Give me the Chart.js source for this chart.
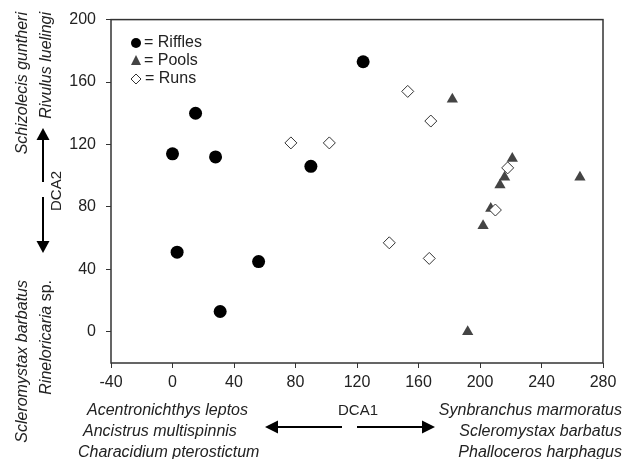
<!DOCTYPE html>
<html>
<head>
<meta charset="utf-8">
<script src="https://cdn.jsdelivr.net/npm/chart.js@4"></script>
<style>
  body { margin: 0; background: #fff; }
  #wrap { width: 633px; height: 459px; }
</style>
</head>
<body>
<div id="wrap"><canvas id="chart" width="633" height="459"></canvas></div>
<script>
// DCA scores (DCA1, DCA2)
const rifflesX = [124, 15, 0, 28, 90, 3, 56, 31];
const rifflesY = [173, 140, 114, 112, 106, 51, 45, 13];
const poolsX = [182, 265, 221, 216, 213, 207, 202, 192];
const poolsY = [149, 99, 111, 99, 94, 79, 68, 0];
const runsX = [153, 168, 77, 102, 218, 210, 141, 167];
const runsY = [154, 135, 121, 121, 105, 78, 57, 47];

const xTickLabels = [-40, 0, 40, 80, 120, 160, 200, 240, 280];
const yTickLabels = [0, 40, 80, 120, 160, 200];

const ink = '#222';
const fontFam = '"Liberation Sans", Arial, sans-serif';

function pts(xs, ys) {
  return xs.map((x, i) => ({ x: x, y: ys[i] }));
}

function arrowHead(ctx, tipX, tipY, dir, len, half) {
  ctx.beginPath();
  if (dir === 'up') {
    ctx.moveTo(tipX, tipY);
    ctx.lineTo(tipX - half, tipY + len);
    ctx.lineTo(tipX + half, tipY + len);
  } else if (dir === 'down') {
    ctx.moveTo(tipX, tipY);
    ctx.lineTo(tipX - half, tipY - len);
    ctx.lineTo(tipX + half, tipY - len);
  } else if (dir === 'left') {
    ctx.moveTo(tipX, tipY);
    ctx.lineTo(tipX + len, tipY - half);
    ctx.lineTo(tipX + len, tipY + half);
  } else {
    ctx.moveTo(tipX, tipY);
    ctx.lineTo(tipX - len, tipY - half);
    ctx.lineTo(tipX - len, tipY + half);
  }
  ctx.closePath();
  ctx.fill();
}

function line(ctx, x1, y1, x2, y2) {
  ctx.beginPath();
  ctx.moveTo(x1, y1);
  ctx.lineTo(x2, y2);
  ctx.stroke();
}

function vText(ctx, txt, x, y, font) {
  ctx.save();
  ctx.translate(x, y);
  ctx.rotate(-Math.PI / 2);
  ctx.font = font;
  ctx.textAlign = 'right';
  ctx.textBaseline = 'middle';
  ctx.fillText(txt, 0, 0);
  ctx.restore();
}

const decorations = {
  id: 'decorations',
  afterDraw(chart) {
    const ctx = chart.ctx;
    const a = chart.chartArea;
    ctx.save();

    // box round the plot
    ctx.strokeStyle = '#333';
    ctx.lineWidth = 1.5;
    ctx.strokeRect(a.left, a.top, a.right - a.left, a.bottom - a.top);

    // legend inside the plot
    const lx = 136, ly = [43, 61, 79];
    ctx.fillStyle = '#000';
    ctx.beginPath();
    ctx.arc(lx, ly[0], 5, 0, Math.PI * 2);
    ctx.fill();
    ctx.fillStyle = '#444';
    ctx.beginPath();
    ctx.moveTo(lx, ly[1] - 6);
    ctx.lineTo(lx - 5, ly[1] + 4);
    ctx.lineTo(lx + 5, ly[1] + 4);
    ctx.closePath();
    ctx.fill();
    ctx.fillStyle = '#fff';
    ctx.strokeStyle = '#333';
    ctx.lineWidth = 1;
    ctx.beginPath();
    ctx.moveTo(lx, ly[2] - 5);
    ctx.lineTo(lx + 5, ly[2]);
    ctx.lineTo(lx, ly[2] + 5);
    ctx.lineTo(lx - 5, ly[2]);
    ctx.closePath();
    ctx.fill();
    ctx.stroke();

    ctx.fillStyle = ink;
    ctx.font = '16px ' + fontFam;
    ctx.textAlign = 'left';
    ctx.textBaseline = 'middle';
    ctx.fillText('= Riffles', 144, ly[0]);
    ctx.fillText('= Pools', 144, ly[1]);
    ctx.fillText('= Runs', 145, ly[2]);

    const it = 'italic 16px ' + fontFam;

    // DCA1 (bottom)
    ctx.font = '15px ' + fontFam;
    ctx.textAlign = 'center';
    ctx.fillText('DCA1', 358, 411);
    ctx.font = it;
    ctx.textAlign = 'left';
    ctx.fillText('Acentronichthys leptos', 87, 411);
    ctx.fillText('Ancistrus multispinnis', 83, 432);
    ctx.fillText('Characidium pterostictum', 78, 453);
    ctx.textAlign = 'right';
    ctx.fillText('Synbranchus marmoratus', 622, 411);
    ctx.fillText('Scleromystax barbatus', 622, 432);
    ctx.fillText('Phalloceros harphagus', 622, 453);

    ctx.fillStyle = '#000';
    ctx.strokeStyle = '#000';
    ctx.lineWidth = 2;
    line(ctx, 342, 427, 276, 427);
    arrowHead(ctx, 265, 427, 'left', 13, 6.5);
    line(ctx, 357, 427, 424, 427);
    arrowHead(ctx, 435, 427, 'right', 13, 6.5);

    // DCA2 (left)
    line(ctx, 43, 182, 43, 138);
    arrowHead(ctx, 43, 128, 'up', 12, 6.5);
    line(ctx, 43, 197, 43, 243);
    arrowHead(ctx, 43, 253, 'down', 12, 6.5);

    ctx.fillStyle = ink;
    ctx.save();
    ctx.translate(57, 191);
    ctx.rotate(-Math.PI / 2);
    ctx.font = '15px ' + fontFam;
    ctx.textAlign = 'center';
    ctx.textBaseline = 'middle';
    ctx.fillText('DCA2', 0, 0);
    ctx.restore();

    vText(ctx, 'Schizolecis guntheri', 23, 12, it);
    vText(ctx, 'Rivulus luelingi', 47, 12, it);
    vText(ctx, 'Scleromystax barbatus', 23, 280, it);
    // "Rineloricaria" italic, "sp." upright
    ctx.font = '16px ' + fontFam;
    const spW = ctx.measureText(' sp.').width;
    vText(ctx, ' sp.', 47, 280, '16px ' + fontFam);
    vText(ctx, 'Rineloricaria', 47, 280 + spW, it);

    ctx.restore();
  }
};

const tickFont = { family: fontFam, size: 16 };

new Chart(document.getElementById('chart').getContext('2d'), {
  type: 'scatter',
  data: {
    datasets: [
      {
        label: 'Riffles',
        data: pts(rifflesX, rifflesY),
        pointStyle: 'circle',
        pointRadius: 6.5,
        backgroundColor: '#000',
        borderColor: '#000',
        borderWidth: 0,
        order: 2
      },
      {
        label: 'Pools',
        data: pts(poolsX, poolsY),
        pointStyle: 'triangle',
        pointRadius: 6.5,
        backgroundColor: '#444',
        borderColor: '#444',
        borderWidth: 0,
        order: 1
      },
      {
        label: 'Runs',
        data: pts(runsX, runsY),
        pointStyle: 'rectRot',
        pointRadius: 6,
        backgroundColor: '#fff',
        borderColor: '#333',
        borderWidth: 1,
        order: 0
      }
    ]
  },
  options: {
    responsive: false,
    animation: false,
    devicePixelRatio: 1,
    layout: { padding: { top: 18, right: 30, left: 0, bottom: 0 } },
    plugins: {
      legend: { display: false },
      tooltip: { enabled: false }
    },
    scales: {
      x: {
        type: 'linear',
        min: -40,
        max: 280,
        afterBuildTicks: s => { s.ticks = xTickLabels.map(v => ({ value: v })); },
        afterFit: s => { s.height = 96; },
        grid: { drawOnChartArea: false, drawTicks: true, tickLength: 5, color: '#333' },
        border: { display: false },
        ticks: { font: tickFont, color: ink, padding: 5, maxRotation: 0 }
      },
      y: {
        type: 'linear',
        min: -20,
        max: 200,
        afterBuildTicks: s => { s.ticks = yTickLabels.map(v => ({ value: v })); },
        afterFit: s => { s.width = 111; },
        grid: { drawOnChartArea: false, drawTicks: true, tickLength: 5, color: '#333' },
        border: { display: false },
        ticks: { font: tickFont, color: ink, padding: 10 }
      }
    }
  },
  plugins: [decorations]
});
</script>
</body>
</html>
